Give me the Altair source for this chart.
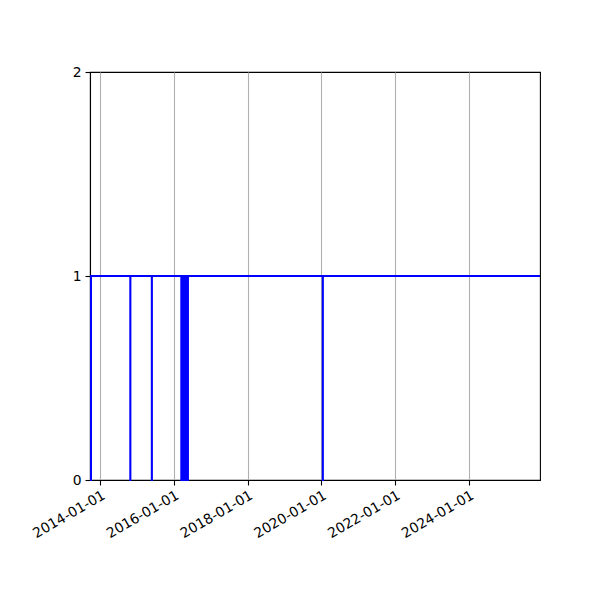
import pandas as pd
import altair as alt

# State switches (step line, 1 = on, 0 = off)
DATES = [
    "2013-09-22", "2013-10-02",
    "2014-10-26", "2014-10-27",
    "2015-05-27", "2015-05-28",
    "2016-03-14", "2016-03-24", "2016-04-12", "2016-04-22",
    "2016-05-09", "2016-05-19",
    "2020-01-14", "2020-01-15",
    "2025-12-04",
]
VALUES = [0, 1, 0, 1, 0, 1, 0, 1, 0, 1, 0, 1, 0, 1, 1]

TICK_YEARS = [2014, 2016, 2018, 2020, 2022, 2024]
Y_TICKS = [0, 1, 2]

df = pd.DataFrame({"date": DATES, "value": VALUES})

FONT = "DejaVu Sans"

x_axis = alt.Axis(
    values=[alt.DateTime(year=y, month=1, date=1, utc=True) for y in TICK_YEARS],
    labelExpr="utcFormat(datum.value, '%Y-%m-%d')",
    labelAngle=-30, labelAlign="right", labelBaseline="top",
    labelFont=FONT, labelFontSize=13.9, labelColor="black", labelPadding=3,
    tickColor="black", tickSize=5, tickWidth=1.1,
    domainColor="black", domainWidth=1.1,
    grid=True, gridColor="#b0b0b0", gridWidth=1.1,
    labelOverlap=False, title=None,
)
y_axis = alt.Axis(
    values=Y_TICKS, labelExpr="format(datum.value, 'd')",
    labelFont=FONT, labelFontSize=13.9, labelColor="black", labelPadding=4,
    tickColor="black", tickSize=5, tickWidth=1.1,
    domainColor="black", domainWidth=1.1,
    labelOverlap=False, labelFlush=False,
    grid=False, title=None,
)

chart = alt.Chart(df).mark_line(
    interpolate="step-after", color="#0000ff", strokeWidth=2
).encode(
    x=alt.X("date:T", scale=alt.Scale(type="utc", nice=False), axis=x_axis),
    y=alt.Y("value:Q", scale=alt.Scale(domain=[0, 2], nice=False), axis=y_axis),
).properties(
    width=450, height=408,
    autosize=alt.AutoSizeParams(type="none"),
    padding={"left": 82, "top": 64, "right": 52, "bottom": 112},
    background="white",
).configure_view(
    stroke="black", strokeWidth=1.1
)

chart.save("out.html", embed_options={"renderer": "svg", "actions": False})
